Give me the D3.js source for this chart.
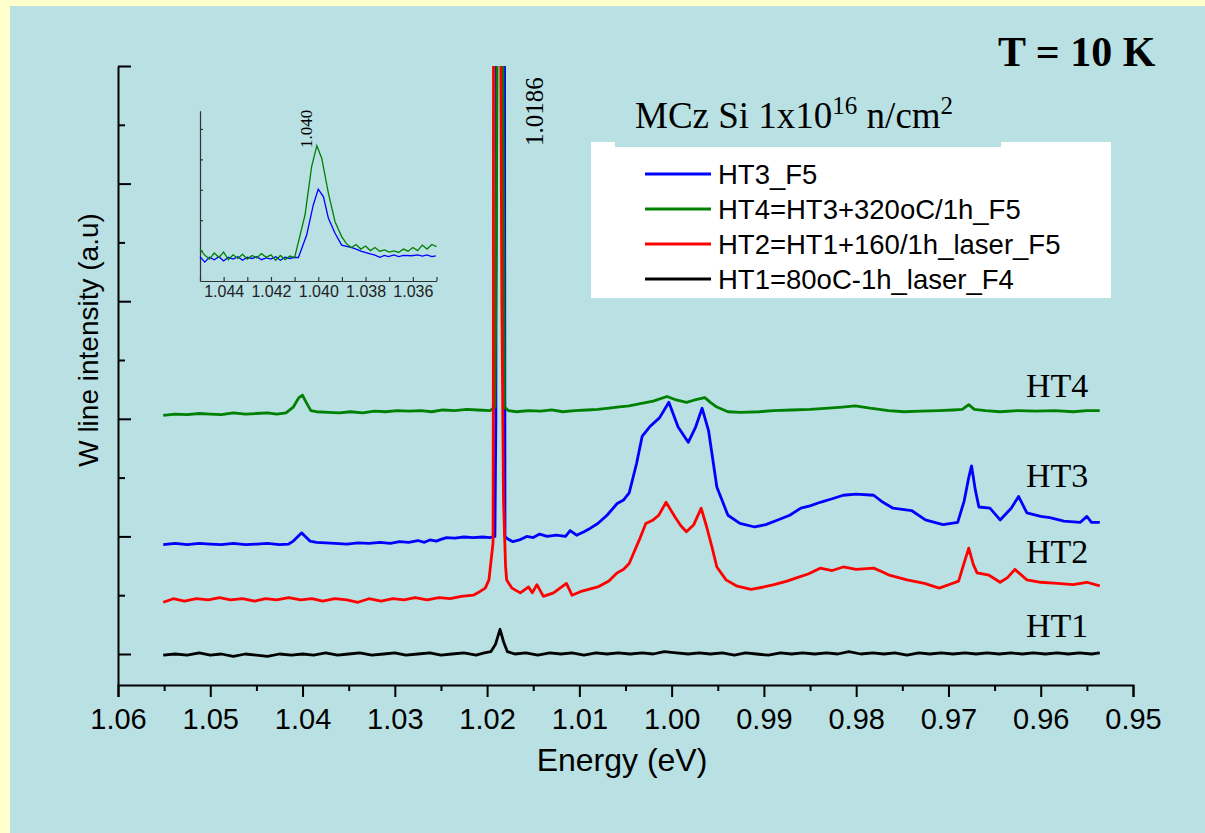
<!DOCTYPE html>
<html>
<head>
<meta charset="utf-8">
<script src="https://cdn.jsdelivr.net/npm/d3@7"></script>
<style>
  body { margin: 0; background: #ffffcc; }
  svg { display: block; }
</style>
</head>
<body>
<div id="chart"></div>
<script>
var width = 1205;
var height = 833;

// ---- data (energy in eV, intensity in a.u. ; one unit = one major y tick) ----
var xTicks = [1.06, 1.05, 1.04, 1.03, 1.02, 1.01, 1.00, 0.99, 0.98, 0.97, 0.96, 0.95];

var ht1 = [[1.0551,-0.01],[1.0538,0.00],[1.0525,-0.01],[1.0512,0.01],[1.0500,-0.01],[1.0488,0.00],[1.0475,-0.02],[1.0462,0.00],
  [1.0450,-0.01],[1.0438,-0.02],[1.0425,0.00],[1.0412,-0.01],[1.0400,0.00],[1.0388,-0.01],[1.0375,0.01],[1.0362,-0.01],
  [1.0350,0.00],[1.0338,0.01],[1.0325,-0.01],[1.0312,0.00],[1.0300,0.01],[1.0288,-0.01],[1.0275,0.00],[1.0262,0.01],
  [1.0250,-0.01],[1.0238,0.00],[1.0225,0.01],[1.0212,-0.01],[1.0203,0.01],[1.0196,0.02],[1.0191,0.08],[1.0186,0.21],
  [1.0182,0.10],[1.0178,0.02],[1.0170,0.00],[1.0158,0.01],[1.0145,-0.01],[1.0132,0.01],[1.0120,0.00],[1.0108,0.01],
  [1.0095,-0.01],[1.0082,0.01],[1.0070,0.00],[1.0058,0.01],[1.0045,0.00],[1.0032,0.01],[1.0020,0.00],[1.0008,0.02],
  [0.9995,0.01],[0.9982,0.00],[0.9970,0.01],[0.9958,0.00],[0.9945,0.01],[0.9932,-0.01],[0.9920,0.01],[0.9908,0.00],
  [0.9895,-0.01],[0.9882,0.01],[0.9870,0.00],[0.9858,0.01],[0.9845,0.00],[0.9832,0.01],[0.9820,0.00],[0.9808,0.02],
  [0.9795,0.00],[0.9782,0.01],[0.9770,0.00],[0.9758,0.01],[0.9745,-0.01],[0.9732,0.01],[0.9720,0.00],[0.9708,0.01],
  [0.9695,0.00],[0.9682,0.01],[0.9670,0.00],[0.9658,0.01],[0.9645,0.00],[0.9632,0.01],[0.9620,0.00],[0.9608,0.01],
  [0.9595,0.00],[0.9582,0.01],[0.9570,0.00],[0.9558,0.01],[0.9545,0.00],[0.9536,0.01]];

var ht2 = [[1.0551,0.44],[1.0540,0.47],[1.0528,0.45],[1.0515,0.47],[1.0502,0.46],[1.0490,0.48],[1.0478,0.46],[1.0465,0.47],
  [1.0452,0.45],[1.0440,0.47],[1.0428,0.46],[1.0415,0.48],[1.0402,0.46],[1.0390,0.47],[1.0378,0.45],[1.0365,0.47],
  [1.0352,0.46],[1.0340,0.44],[1.0328,0.47],[1.0315,0.45],[1.0302,0.47],[1.0290,0.46],[1.0278,0.48],[1.0265,0.46],
  [1.0252,0.48],[1.0240,0.47],[1.0228,0.49],[1.0215,0.50],[1.0208,0.53],[1.0202,0.56],[1.0198,0.63],[1.01935,0.95],
  [1.01932,2.5],[1.0193,6],[1.01857,6],[1.0184,3.0],[1.01822,1.3],[1.0180,0.75],[1.01788,0.63],[1.0173,0.56],
  [1.0164,0.52],[1.0155,0.57],[1.0151,0.52],[1.0146,0.59],[1.0139,0.49],[1.0128,0.52],[1.0114,0.60],[1.0108,0.50],
  [1.0099,0.53],[1.0090,0.55],[1.0080,0.57],[1.0068,0.62],[1.0059,0.69],[1.0052,0.72],[1.0046,0.77],[1.0040,0.88],
  [1.0034,0.99],[1.0028,1.11],[1.0020,1.14],[1.0014,1.18],[1.0006,1.29],[0.9996,1.16],[0.9990,1.09],[0.9984,1.04],
  [0.9976,1.10],[0.9968,1.24],[0.9962,1.08],[0.9956,0.90],[0.9951,0.74],[0.9941,0.63],[0.9930,0.58],[0.9914,0.55],
  [0.9900,0.57],[0.9889,0.59],[0.9875,0.62],[0.9864,0.65],[0.9852,0.68],[0.9839,0.73],[0.9826,0.71],[0.9814,0.74],
  [0.9800,0.72],[0.9781,0.73],[0.9772,0.70],[0.9764,0.67],[0.9745,0.63],[0.9726,0.60],[0.9710,0.56],[0.9696,0.60],
  [0.9689,0.62],[0.9684,0.75],[0.9678,0.90],[0.9673,0.76],[0.9669,0.69],[0.9656,0.67],[0.9644,0.61],[0.9636,0.65],
  [0.9628,0.72],[0.9615,0.63],[0.9600,0.61],[0.9582,0.60],[0.9565,0.59],[0.9550,0.61],[0.9536,0.58]];

var ht3 = [[1.0551,0.93],[1.0538,0.94],[1.0525,0.93],[1.0512,0.94],[1.0500,0.935],[1.0488,0.93],[1.0475,0.94],[1.0462,0.93],
  [1.0450,0.935],[1.0438,0.94],[1.0425,0.93],[1.0415,0.935],[1.0410,0.96],[1.0405,1.00],[1.0401,1.03],[1.0397,1.00],
  [1.0392,0.96],[1.0385,0.95],[1.0375,0.945],[1.0365,0.94],[1.0352,0.935],[1.0340,0.945],[1.0328,0.94],[1.0316,0.95],
  [1.0305,0.94],[1.0295,0.955],[1.0285,0.95],[1.0275,0.965],[1.0268,0.95],[1.0262,0.97],[1.0255,0.96],[1.0250,0.975],
  [1.0244,0.99],[1.0235,0.985],[1.0225,0.995],[1.0215,0.99],[1.0205,0.995],[1.0197,0.99],[1.01915,1.0],[1.01905,2.0],
  [1.0190,6],[1.01812,6],[1.01806,1.0],[1.0178,0.98],[1.0172,0.955],[1.0165,0.97],[1.0157,1.00],[1.0150,0.99],
  [1.0143,1.02],[1.0135,1.00],[1.0125,1.01],[1.0115,1.00],[1.0110,1.05],[1.0103,1.01],[1.0095,1.04],[1.0088,1.07],
  [1.0080,1.11],[1.0070,1.18],[1.0059,1.28],[1.0052,1.31],[1.0046,1.37],[1.0038,1.62],[1.0032,1.85],[1.0024,1.93],
  [1.0013,2.01],[1.0003,2.14],[0.9993,1.93],[0.9982,1.80],[0.9974,1.93],[0.9967,2.09],[0.9960,1.90],[0.9951,1.42],
  [0.9939,1.18],[0.9926,1.11],[0.9910,1.08],[0.9898,1.10],[0.9885,1.14],[0.9872,1.18],[0.9860,1.24],[0.9850,1.26],
  [0.9839,1.29],[0.9826,1.32],[0.9814,1.35],[0.9800,1.36],[0.9781,1.35],[0.9771,1.29],[0.9760,1.24],[0.9740,1.22],
  [0.9725,1.14],[0.9706,1.10],[0.9690,1.12],[0.9683,1.30],[0.9678,1.50],[0.9675,1.60],[0.9671,1.40],[0.9667,1.25],
  [0.9655,1.24],[0.9644,1.14],[0.9632,1.24],[0.9624,1.34],[0.9615,1.20],[0.9600,1.17],[0.9590,1.16],[0.9575,1.13],
  [0.9557,1.12],[0.9550,1.17],[0.9545,1.12],[0.9536,1.12]];

var ht4 = [[1.0551,2.03],[1.0538,2.04],[1.0525,2.035],[1.0512,2.045],[1.0500,2.04],[1.0488,2.035],[1.0475,2.05],[1.0462,2.04],
  [1.0450,2.045],[1.0438,2.05],[1.0428,2.04],[1.0418,2.05],[1.0410,2.10],[1.0404,2.18],[1.0400,2.20],[1.0396,2.14],
  [1.0391,2.07],[1.0385,2.06],[1.0372,2.055],[1.0360,2.05],[1.0348,2.06],[1.0335,2.05],[1.0322,2.065],[1.0310,2.06],
  [1.0297,2.07],[1.0285,2.065],[1.0272,2.07],[1.0260,2.06],[1.0248,2.075],[1.0235,2.07],[1.0222,2.08],[1.0210,2.075],
  [1.0197,2.07],[1.01915,2.1],[1.0190,3.5],[1.01887,6],[1.01833,6],[1.0182,3.5],[1.01813,2.1],[1.0177,2.07],
  [1.0168,2.06],[1.0155,2.07],[1.0142,2.065],[1.0130,2.075],[1.0118,2.06],[1.0105,2.07],[1.0092,2.075],[1.0080,2.08],
  [1.0068,2.09],[1.0059,2.10],[1.0046,2.11],[1.0034,2.13],[1.0020,2.15],[1.0005,2.19],[0.9995,2.16],[0.9984,2.14],
  [0.9975,2.16],[0.9964,2.18],[0.9958,2.14],[0.9951,2.10],[0.9939,2.06],[0.9925,2.055],[0.9905,2.06],[0.9890,2.07],
  [0.9870,2.075],[0.9850,2.08],[0.9830,2.09],[0.9815,2.10],[0.9801,2.11],[0.9785,2.09],[0.9765,2.07],[0.9748,2.06],
  [0.9730,2.065],[0.9710,2.07],[0.9695,2.075],[0.9685,2.08],[0.9678,2.12],[0.9672,2.08],[0.9660,2.07],[0.9644,2.06],
  [0.9625,2.07],[0.9605,2.065],[0.9585,2.07],[0.9565,2.06],[0.9550,2.07],[0.9536,2.07]];

// inset (1.035 - 1.045 eV), own intensity units
var insetTicks = [1.044, 1.042, 1.040, 1.038, 1.036];
var insetHT4 = [[1.0450,1.05],[1.0448,0.85],[1.0446,0.72],[1.0444,0.92],[1.0442,0.78],[1.0440,0.95],[1.0438,0.70],[1.0436,0.86],
  [1.0434,0.74],[1.0432,0.88],[1.0430,0.72],[1.0428,0.84],[1.0426,0.76],[1.0424,0.90],[1.0422,0.78],[1.0420,0.86],
  [1.0418,0.68],[1.0416,0.84],[1.0414,0.70],[1.0412,0.82],[1.0410,0.77],[1.04056,2.17],[1.04028,3.76],[1.04006,4.45],
  [1.03985,4.03],[1.03957,2.88],[1.03929,1.95],[1.03901,1.46],[1.0388,1.22],[1.0386,1.10],[1.0384,1.20],[1.0382,1.05],
  [1.0380,1.15],[1.0378,1.00],[1.0376,1.10],[1.0374,0.98],[1.0372,1.02],[1.0370,0.95],[1.0368,0.99],[1.0366,0.94],
  [1.0364,1.05],[1.0362,0.98],[1.0360,1.10],[1.0358,1.00],[1.0356,1.18],[1.0354,1.05],[1.0352,1.20],[1.0350,1.13]];
var insetHT3 = [[1.0450,0.80],[1.0448,0.62],[1.0446,0.78],[1.0444,0.70],[1.0442,0.80],[1.0440,0.66],[1.0438,0.78],[1.0436,0.72],
  [1.0434,0.80],[1.0432,0.68],[1.0430,0.78],[1.0428,0.74],[1.0426,0.80],[1.0424,0.70],[1.0422,0.76],[1.0420,0.72],
  [1.0418,0.80],[1.0416,0.68],[1.0414,0.78],[1.0412,0.74],[1.0410,0.78],[1.04084,0.77],[1.04049,1.51],[1.04021,2.50],
  [1.04000,3.02],[1.03978,2.77],[1.03957,2.06],[1.03929,1.57],[1.03901,1.18],[1.03858,1.10],[1.0384,1.05],[1.0382,0.98],
  [1.03788,0.91],[1.0376,0.85],[1.0374,0.78],[1.0372,0.84],[1.03703,0.80],[1.0368,0.86],[1.0366,0.80],[1.0364,0.84],
  [1.03605,0.83],[1.0358,0.86],[1.0356,0.82],[1.0354,0.86],[1.0352,0.80],[1.03503,0.83]];

var legendNames = ["HT3_F5", "HT4=HT3+320oC/1h_F5", "HT2=HT1+160/1h_laser_F5", "HT1=80oC-1h_laser_F4"];
var legendColors = ["#0000ff", "#008000", "#ff0000", "#000000"];
var curveLabels = ["HT4", "HT3", "HT2", "HT1"];

var bg = "#b9e0e3";
var sans = "'Liberation Sans', Arial, sans-serif";
var serif = "'Liberation Serif', 'Times New Roman', serif";

var svg = d3.select("#chart")
    .append("svg")
    .attr("width", width)
    .attr("height", height);

svg.append("rect").attr("width", width).attr("height", height).attr("fill", "#ffffcc");
svg.append("rect").attr("x", 10).attr("y", 6).attr("width", width - 10).attr("height", height - 6).attr("fill", bg);

var x = d3.scaleLinear().domain([1.06, 0.95]).range([118, 1133]);
var y = d3.scaleLinear().domain([-0.2636, 5]).range([685, 66]);

svg.append("clipPath").attr("id", "plotclip")
  .append("rect").attr("x", 118).attr("y", 66).attr("width", 1015).attr("height", 619);

var line = d3.line()
    .x(function(d) { return x(d[0]); })
    .y(function(d) { return y(d[1]); });

var plot = svg.append("g").attr("clip-path", "url(#plotclip)");
var series = [[ht1, "#000000"], [ht3, "#0000ff"], [ht4, "#008000"], [ht2, "#ff0000"]];
series.forEach(function(s) {
  plot.append("path")
      .datum(s[0])
      .attr("d", line)
      .attr("fill", "none")
      .attr("stroke", s[1])
      .attr("stroke-width", 2.8)
      .attr("stroke-linejoin", "round");
});

// x axis
var xAxis = svg.append("g")
    .attr("transform", "translate(0,685)")
    .call(d3.axisBottom(x).tickValues(xTicks).tickSize(12).tickPadding(11)
      .tickFormat(d3.format(".2f")));
svg.append("g")
    .attr("transform", "translate(0,685)")
    .call(d3.axisBottom(x).tickValues(d3.range(0, 11).map(function(i) { return 1.055 - i * 0.01; }))
      .tickSize(6).tickFormat(""))
    .select(".domain").remove();
xAxis.selectAll("text").attr("font-family", sans).attr("font-size", 29).attr("fill", "#000");

// y axis, ticks pointing inward, no labels
svg.append("g")
    .attr("transform", "translate(118,0)")
    .call(d3.axisLeft(y).tickValues([0, 1, 2, 3, 4, 5]).tickSize(-13).tickSizeOuter(0).tickFormat(""));
svg.append("g")
    .attr("transform", "translate(118,0)")
    .call(d3.axisLeft(y).tickValues([0.5, 1.5, 2.5, 3.5, 4.5]).tickSize(-7).tickFormat(""))
    .select(".domain").remove();
svg.selectAll(".domain, .tick line").attr("stroke", "#000").attr("stroke-width", 2);

svg.append("text")
    .attr("x", 622).attr("y", 771)
    .attr("text-anchor", "middle")
    .attr("font-family", sans).attr("font-size", 32)
    .text("Energy (eV)");

svg.append("text")
    .attr("transform", "translate(98,340) rotate(-90)")
    .attr("text-anchor", "middle")
    .attr("font-family", sans).attr("font-size", 28)
    .text("W line intensity (a.u)");

// curve labels
var labelY = [397, 487, 563, 637];
curveLabels.forEach(function(t, i) {
  svg.append("text")
      .attr("x", 1026).attr("y", labelY[i])
      .attr("font-family", serif).attr("font-size", 34)
      .text(t);
});

svg.append("text")
    .attr("transform", "translate(543,146) rotate(-90)")
    .attr("font-family", serif).attr("font-size", 25)
    .text("1.0186");

svg.append("text")
    .attr("x", 998).attr("y", 66)
    .attr("font-family", serif).attr("font-size", 42).attr("font-weight", "bold")
    .text("T = 10 K");

// legend
var legend = svg.append("g");
legend.append("rect")
    .attr("x", 591).attr("y", 142).attr("width", 520).attr("height", 156)
    .attr("fill", "#ffffff");
legendNames.forEach(function(name, i) {
  var ly = 174 + i * 35;
  legend.append("line")
      .attr("x1", 645).attr("x2", 711).attr("y1", ly).attr("y2", ly)
      .attr("stroke", legendColors[i]).attr("stroke-width", 3);
  legend.append("text")
      .attr("x", 718).attr("y", ly + 9.5)
      .attr("font-family", sans).attr("font-size", 27.5)
      .text(name);
});

// sample title, its box cuts into the top of the legend
svg.append("rect")
    .attr("x", 615).attr("y", 95).attr("width", 386).attr("height", 52)
    .attr("fill", bg);
var title = svg.append("text")
    .attr("x", 635).attr("y", 128)
    .attr("font-family", serif).attr("font-size", 37);
title.append("tspan").text("MCz Si 1x10");
title.append("tspan").attr("dy", -14).attr("font-size", 25).text("16");
title.append("tspan").attr("dy", 14).text(" n/cm");
title.append("tspan").attr("dy", -14).attr("font-size", 25).text("2");

// inset
var xi = d3.scaleLinear().domain([1.045, 1.035]).range([200, 436.5]);
var yi = d3.scaleLinear().domain([0, 5.6]).range([281, 110.7]);
var inset = svg.append("g");
var insetX = inset.append("g")
    .attr("transform", "translate(0,281)")
    .call(d3.axisBottom(xi).tickValues(d3.range(0, 11).map(function(i) { return 1.045 - i * 0.001; }))
      .tickSize(-4).tickSizeOuter(0).tickPadding(5)
      .tickFormat(function(d) {
        var s = d3.format(".3f")(d);
        return insetTicks.indexOf(+s) >= 0 ? s : "";
      }));
inset.append("g")
    .attr("transform", "translate(200,0)")
    .call(d3.axisLeft(yi).tickValues([1, 2, 3, 4, 5]).tickSize(-3).tickSizeOuter(0).tickFormat(""));
inset.selectAll(".domain, .tick line").attr("stroke", "#333").attr("stroke-width", 1.2);
insetX.selectAll("text").attr("font-family", sans).attr("font-size", 16).attr("fill", "#222");

var iline = d3.line()
    .x(function(d) { return xi(d[0]); })
    .y(function(d) { return yi(d[1]); });
[[insetHT3, "#0000ff"], [insetHT4, "#008000"]].forEach(function(s) {
  inset.append("path")
      .datum(s[0])
      .attr("d", iline)
      .attr("fill", "none")
      .attr("stroke", s[1])
      .attr("stroke-width", 1.3);
});
inset.append("text")
    .attr("transform", "translate(312,148) rotate(-90)")
    .attr("font-family", serif).attr("font-size", 17)
    .text("1.040");
</script>
</body>
</html>
